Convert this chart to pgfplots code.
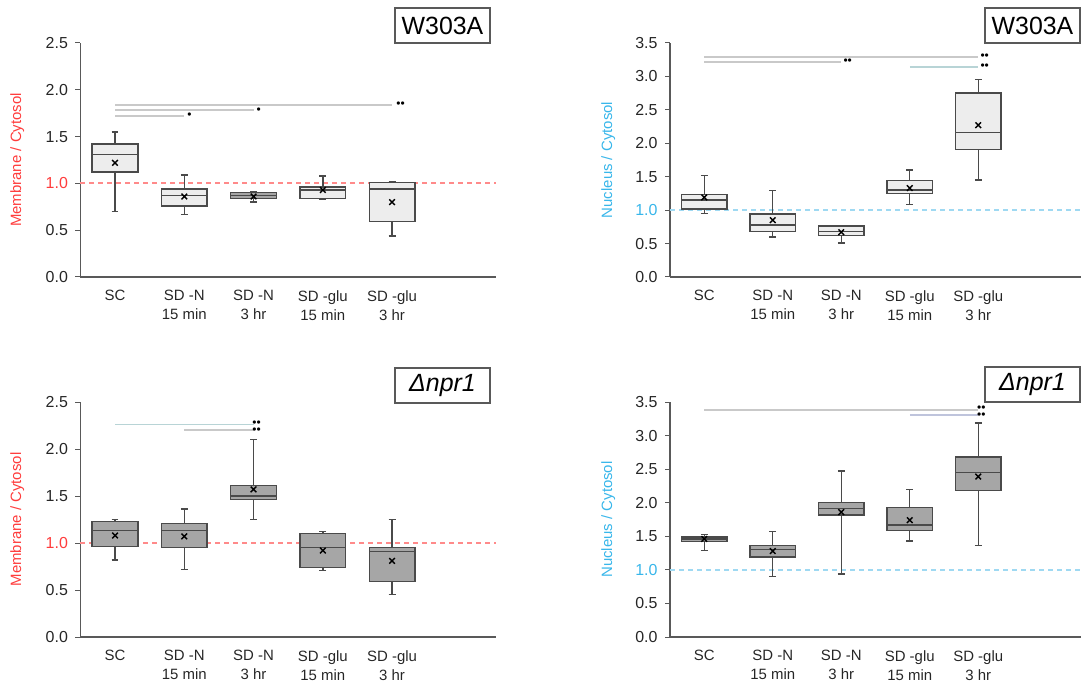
\documentclass[border=0pt]{standalone}
\usepackage{fontspec}
\setmainfont{Liberation Sans}
\usepackage{pgfplots}
\pgfplotsset{compat=1.18}
\usepgfplotslibrary{statistics}
\definecolor{boxlight}{HTML}{EDEDED}
\definecolor{boxdark}{HTML}{A6A6A6}
\definecolor{boxdraw}{HTML}{4A4A4A}
\definecolor{axisgray}{HTML}{595959}
\definecolor{textgray}{HTML}{262626}
\definecolor{labred}{HTML}{FF3C3C}
\definecolor{refred}{HTML}{FF8A8A}
\definecolor{labblue}{HTML}{38B6EA}
\definecolor{refblue}{HTML}{9FD9F2}
\definecolor{sigA}{HTML}{C9C9C9}
\definecolor{sigB}{HTML}{B8D4D6}
\definecolor{sigC}{HTML}{BFC4DC}
\newcommand{\lbl}{\fontsize{15}{19}\selectfont}
\newcommand{\tkl}{\fontsize{16}{19}\selectfont}
\newcommand{\bx}[7]{\addplot[boxplot prepared={draw position=#1, lower whisker=#2, lower quartile=#3, median=#4, upper quartile=#5, upper whisker=#6, box extend=0.66, whisker extend=0.1}, draw=boxdraw, fill=#7, line width=1.4bp] coordinates {};}
\pgfplotsset{
  mybase/.style={
    scale only axis,
    xmin=-0.5, xmax=5.5, ymin=0,
    axis x line=bottom, axis y line=left,
    axis line style={draw=axisgray, line width=1.3bp, -},
    xtick={0,1,2,3,4},
    xticklabels={SC,{SD -N\\15 min},{SD -N\\3 hr},{SD -glu\\15 min},{SD -glu\\3 hr}},
    xticklabel style={align=center, font=\lbl, text=textgray, yshift=-5bp},
    xtick style={draw=none},
    ytick style={draw=axisgray, line width=1bp},
    tick align=outside, major tick length=5bp,
    grid=none,
    yticklabel style={font=\tkl, text=textgray, xshift=-4bp, /pgf/number format/fixed, /pgf/number format/fixed zerofill, /pgf/number format/precision=1, /pgf/number format/assume math mode=true},
    extra y ticks={1},
    boxplot/draw direction=y,
    clip=false,
    ylabel style={font=\lbl, rotate=0, anchor=center},
  },
  memb/.style={mybase, ymax=2.5, ytick={0,0.5,1.5,2,2.5},
    extra y tick style={grid=none, yticklabel style={text=labred, /pgf/number format/fixed, /pgf/number format/fixed zerofill, /pgf/number format/precision=1, /pgf/number format/assume math mode=true}},
    ylabel={Membrane / Cytosol}, ylabel style={text=labred, at={(axis description cs:-0.152,0.5)}}},
  nucl/.style={mybase, ymax=3.5, ytick={0,0.5,1.5,2,2.5,3,3.5},
    extra y tick style={grid=none, yticklabel style={text=labblue, /pgf/number format/fixed, /pgf/number format/fixed zerofill, /pgf/number format/precision=1, /pgf/number format/assume math mode=true}},
    ylabel={Nucleus / Cytosol}, ylabel style={text=labblue, at={(axis description cs:-0.150,0.5)}}},
  meanx/.style={only marks, mark=x, mark size=4bp, black, line width=1.4bp},
  refl/.style={draw=#1, line width=2bp, dash pattern=on 5bp off 4bp, mark=none},
  sigl/.style={draw=#1, line width=1.8bp, mark=none},
}
\tikzset{stars/.style={font=\fontsize{12}{12}\selectfont, inner sep=0pt, anchor=west, text=black},
  stars2/.style={font=\fontsize{12}{5.5}\selectfont, inner sep=0pt, anchor=west, text=black, align=left},
  tagbox/.style={draw=axisgray, line width=1.2bp, minimum width=95bp, minimum height=35bp, inner sep=0pt, font=\fontsize{25}{25}\selectfont, text=black}}
\begin{document}
\begin{tikzpicture}
\useasboundingbox (0,0) rectangle (1082bp,690bp);
% ---------------- top left ----------------
\begin{axis}[memb, at={(80.4bp,413bp)}, anchor=south west, width=415.6bp, height=234bp]
\addplot[refl=refred] coordinates {(-0.5,1) (5.5,1)};
\bx{0}{0.70}{1.12}{1.31}{1.42}{1.55}{boxlight}
\bx{1}{0.67}{0.76}{0.87}{0.94}{1.09}{boxlight}
\bx{2}{0.80}{0.84}{0.87}{0.90}{0.91}{boxdark}
\bx{3}{0.83}{0.84}{0.93}{0.96}{1.08}{boxlight}
\bx{4}{0.44}{0.59}{0.94}{1.01}{1.02}{boxlight}
\addplot[meanx] coordinates {(0,1.22) (1,0.86) (2,0.86) (3,0.93) (4,0.80)};
\addplot[sigl=sigA] coordinates {(0,1.84) (4,1.84)};
\addplot[sigl=sigA] coordinates {(0,1.78) (2,1.78)};
\addplot[sigl=sigA] coordinates {(0,1.72) (1,1.72)};
\node[stars] at (axis cs:4.06,1.84) {••};
\node[stars] at (axis cs:2.04,1.78) {•};
\node[stars] at (axis cs:1.04,1.72) {•};
\end{axis}
% ---------------- top right ----------------
\begin{axis}[nucl, at={(670bp,413bp)}, anchor=south west, width=411bp, height=234bp]
\addplot[refl=refblue] coordinates {(-0.5,1) (5.5,1)};
\bx{0}{0.95}{1.02}{1.15}{1.23}{1.52}{boxlight}
\bx{1}{0.60}{0.68}{0.78}{0.94}{1.29}{boxlight}
\bx{2}{0.51}{0.62}{0.68}{0.76}{0.77}{boxlight}
\bx{3}{1.08}{1.25}{1.30}{1.44}{1.60}{boxlight}
\bx{4}{1.45}{1.91}{2.16}{2.75}{2.95}{boxlight}
\addplot[meanx] coordinates {(0,1.19) (1,0.85) (2,0.67) (3,1.33) (4,2.27)};
\addplot[sigl=sigA] coordinates {(0,3.29) (4,3.29)};
\addplot[sigl=sigA] coordinates {(0,3.22) (2,3.22)};
\addplot[sigl=sigB] coordinates {(3,3.14) (4,3.14)};
\node[stars] at (axis cs:4.03,3.29) {••};
\node[stars] at (axis cs:2.03,3.22) {••};
\node[stars] at (axis cs:4.03,3.14) {••};
\end{axis}
% ---------------- bottom left ----------------
\begin{axis}[memb, at={(80.4bp,53bp)}, anchor=south west, width=415.6bp, height=235bp]
\addplot[refl=refred] coordinates {(-0.5,1) (5.5,1)};
\bx{0}{0.82}{0.96}{1.13}{1.23}{1.25}{boxdark}
\bx{1}{0.72}{0.95}{1.13}{1.21}{1.36}{boxdark}
\bx{2}{1.25}{1.46}{1.50}{1.61}{2.10}{boxdark}
\bx{3}{0.71}{0.74}{0.95}{1.10}{1.12}{boxdark}
\bx{4}{0.45}{0.59}{0.91}{0.95}{1.25}{boxdark}
\addplot[meanx] coordinates {(0,1.08) (1,1.07) (2,1.57) (3,0.92) (4,0.81)};
\addplot[sigl=sigB] coordinates {(0,2.26) (2,2.26)};
\addplot[sigl=sigA] coordinates {(1,2.20) (2,2.20)};
\node[stars2] at (axis cs:1.98,2.23) {••\\••};
\end{axis}
% ---------------- bottom right ----------------
\begin{axis}[nucl, at={(670bp,53bp)}, anchor=south west, width=411bp, height=235bp]
\addplot[refl=refblue] coordinates {(-0.5,1) (5.5,1)};
\bx{0}{1.29}{1.42}{1.46}{1.49}{1.53}{boxdark}
\bx{1}{0.90}{1.19}{1.30}{1.36}{1.57}{boxdark}
\bx{2}{0.94}{1.82}{1.91}{2.00}{2.47}{boxdark}
\bx{3}{1.43}{1.59}{1.67}{1.93}{2.20}{boxdark}
\bx{4}{1.36}{2.18}{2.45}{2.68}{3.19}{boxdark}
\addplot[meanx] coordinates {(0,1.46) (1,1.28) (2,1.86) (3,1.74) (4,2.39)};
\addplot[sigl=sigA] coordinates {(0,3.38) (4,3.38)};
\addplot[sigl=sigC] coordinates {(3,3.31) (4,3.31)};
\node[stars2] at (axis cs:3.98,3.345) {••\\••};
\end{axis}
% ---------------- tags ----------------
\node[tagbox] at (442.5bp,664.5bp) {W303A};
\node[tagbox] at (1032.5bp,664.5bp) {W303A};
\node[tagbox] at (442.5bp,304.5bp) {\itshape Δnpr1};
\node[tagbox] at (1032.5bp,305.5bp) {\itshape Δnpr1};
\end{tikzpicture}
\end{document}
